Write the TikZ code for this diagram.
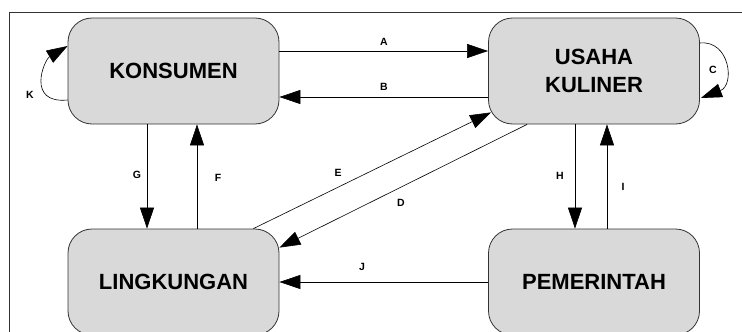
\documentclass[tikz,border=0pt]{standalone}
\usepackage{fontspec}
\setmainfont{Liberation Sans}
\usetikzlibrary{arrows.meta,calc}
\definecolor{boxfill}{HTML}{D9D9D9}
\definecolor{linegray}{HTML}{333333}
\tikzset{
  entity/.style={draw=linegray, line width=0.8pt, fill=boxfill, rounded corners=24pt,
    minimum width=211pt, minimum height=106pt, inner sep=0pt, align=center,
    font=\fontsize{22}{28}\selectfont\bfseries},
  arr/.style={draw=black, line width=0.6pt, -{Triangle[length=21pt,width=14pt]}},
  lbl/.style={font=\fontsize{10.5}{12}\selectfont\bfseries, inner sep=0pt}
}
\begin{document}
\begin{tikzpicture}[x=1pt,y=-1pt]
\useasboundingbox (0,0) rectangle (742,332);
\clip (0,0) rectangle (742,332);
\draw[linegray, line width=0.9pt] (9,12) rectangle (760,350);
\node[entity] (kon) at (173.5,71) {KONSUMEN};
\node[entity] (usa) at (594,71) {USAHA\\KULINER};
\node[entity] (lin) at (173.5,282) {LINGKUNGAN};
\node[entity] (pem) at (594,282) {PEMERINTAH};
% A and B
\draw[arr] (kon.east |- 0,51) -- (usa.west |- 0,51);
\draw[arr] (usa.west |- 0,97) -- (kon.east |- 0,97);
% E and D
\draw[arr] ($(lin.north east)+(-26,0)$) -- ($(usa.south west)+(3,-12)$);
\draw[arr] ($(usa.south west)+(39,0)$) -- ($(lin.north east)+(0,19)$);
% G and F
\draw[arr] (kon.south -| 147,0) -- (lin.north -| 147,0);
\draw[arr] (lin.north -| 197,0) -- (kon.south -| 197,0);
% H and I
\draw[arr] (usa.south -| 575,0) -- (pem.north -| 575,0);
\draw[arr] (pem.north -| 607,0) -- (usa.south -| 607,0);
% J
\draw[arr] (pem.west) -- (lin.east);
% self loops
\draw[arr] ($(kon.west)+(0,29)$) .. controls (26,104) and (44,60) .. ($(kon.west)+(0,-25)$);
\draw[arr] ($(usa.east)+(0,-28)$) .. controls (730,40) and (735,85) .. ($(usa.east)+(1,27)$);
% labels
\node[lbl] (la) at (384,42) {A};
\node[lbl] (lb) at (384,87) {B};
\node[lbl] (lc) at (713,70) {C};
\node[lbl] (ld) at (401,203) {D};
\node[lbl] (le) at (338,173) {E};
\node[lbl] (lf) at (218,178) {F};
\node[lbl] (lg) at (137,175) {G};
\node[lbl] (lh) at (560,176) {H};
\node[lbl] (li) at (623,187) {I};
\node[lbl] (lj) at (362,267) {J};
\node[lbl] (lk) at (30,95) {K};
\end{tikzpicture}
\end{document}
